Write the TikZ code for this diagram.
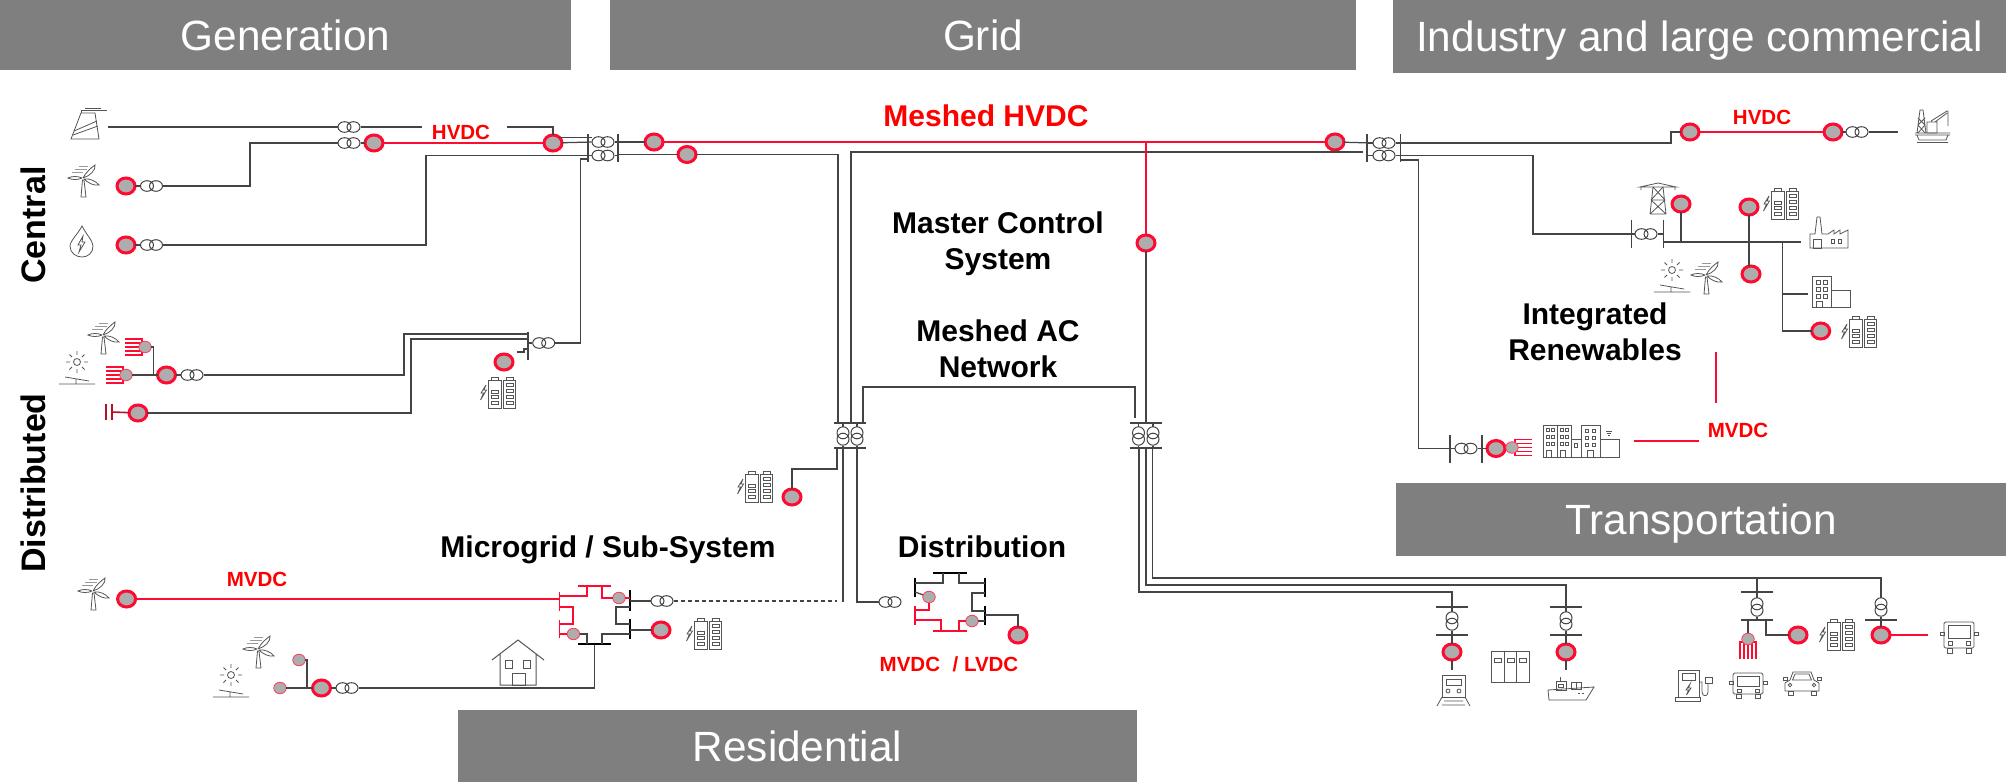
\documentclass[tikz,border=0pt]{standalone}
\usepackage{fontspec}
\setmainfont{Liberation Sans}
\usepackage{xcolor}
\usepackage{tikz}
\usetikzlibrary{positioning, shapes.geometric}
\definecolor{hdrgray}{HTML}{7F7F7F}
\definecolor{dcred}{HTML}{FF0A30}
\definecolor{capred}{HTML}{B81028}
\definecolor{convgray}{HTML}{ADADAD}
\definecolor{wirec}{HTML}{444444}
\definecolor{iconc}{HTML}{555555}

\begin{document}
\begin{tikzpicture}[
    x=1pt, y=-1pt,
    hdr/.style={rectangle, fill=hdrgray, text=white, inner sep=0pt, text depth=0pt,
                font=\fontsize{42.3}{48}\selectfont},
    lbl/.style={align=center, inner sep=0pt, font=\fontsize{30}{36}\selectfont\bfseries},
    sidelbl/.style={inner sep=0pt, rotate=90, font=\fontsize{34}{38}\selectfont\bfseries},
    redlbl/.style={text=red, inner sep=0pt, font=\fontsize{20.5}{24}\selectfont\bfseries},
    conv/.style={ellipse, draw=dcred, fill=convgray, line width=3pt, inner sep=0pt,
                 outer sep=0pt, minimum width=18pt, minimum height=16pt},
    smallconv/.style={ellipse, draw=dcred!80, fill=convgray, line width=0.8pt, inner sep=0pt,
                 outer sep=0pt, minimum width=12.5pt, minimum height=11.5pt},
    trh/.style={rectangle, fill=white, inner sep=0pt, outer sep=0pt,
                minimum width=23pt, minimum height=12pt,
                path picture={\draw[wirec, line width=1pt]
                    (path picture bounding box.center) ++(-4.5,0) ellipse [x radius=6.5, y radius=5.3]
                    ++(9,0) ellipse [x radius=6.5, y radius=5.3];}},
    trv/.style={rectangle, fill=white, inner sep=0pt, outer sep=0pt,
                minimum width=13pt, minimum height=19pt,
                path picture={\draw[wirec, line width=1pt]
                    (path picture bounding box.center) ++(0,-3.2) circle [radius=6]
                    ++(0,6.4) circle [radius=6];}},
    busv/.style={rectangle, fill=wirec, inner sep=0pt, outer sep=0pt,
                 minimum width=1.3pt, minimum height=28pt},
    bush/.style={rectangle, fill=wirec, inner sep=0pt, outer sep=0pt,
                 minimum height=1.3pt, minimum width=32pt},
    wire/.style={wirec, line width=1.25pt},
    dcline/.style={dcred, line width=2.8pt},
    dcthin/.style={dcred, line width=1.8pt},
    ico/.style={draw=iconc, line width=0.8pt},
    plant/.pic={
        \draw[ico] (0,31) -- (10,5) -- (24,5) -- (28,31) -- cycle;
        \draw[ico] (3,23) -- (26,13) (2,27) -- (27,18);
        \draw[ico] (10,5) -- (10,2) -- (36,2) (14,0) -- (30,0);
    },
    windmill/.pic={
        \draw[ico] (15,13) .. controls (18,7) and (23,3) .. (27,0) .. controls (28,5) and (22,11) .. (15,13);
        \draw[ico] (16,14) .. controls (21,13) and (28,16) .. (31,20) .. controls (26,21) and (20,18) .. (16,14);
        \draw[ico] (14,13) .. controls (10,11) and (4,11) .. (0,13) .. controls (4,15) and (10,15) .. (14,13);
        \draw[ico] (13,32) -- (14.5,15) -- (16,15) -- (18,32) -- cycle;
        \draw[iconc!60, line width=1pt] (11,1) -- (20,1) (7,4) -- (19,4) (4,7) -- (15,7);
    },
    sunpanel/.pic={
        \draw[ico] (18,9) circle [radius=3.5];
        \draw[ico] (18,-2) -- (18,2) (18,16) -- (18,20) (7,9) -- (11,9) (25,9) -- (29,9)
            (10.5,1.5) -- (13,4) (25.5,1.5) -- (23,4) (10.5,16.5) -- (13,14) (25.5,16.5) -- (23,14);
        \draw[ico] (6,24) -- (30,28) (17,26) -- (17,31) (0,31) -- (36,31);
    },
    hydrodrop/.pic={
        \draw[ico] (12,0) .. controls (8,8) and (0,15) .. (0,20) .. controls (0,27) and (6,31) .. (12,31)
            .. controls (18,31) and (23,27) .. (23,20) .. controls (23,15) and (16,8) .. (12,0) -- cycle;
        \draw[ico] (13,10) -- (8,19) -- (11,19) -- (9,26) -- (15,16) -- (12,16) -- cycle;
    },
    battpack/.pic={
        \draw[ico] (8,8) -- (3,16) -- (5.5,16) -- (2.5,23) -- (8.5,13) -- (6,13) -- cycle;
        \draw[ico] (10,3) rectangle (23,31) (13,0.5) rectangle (20,3)
            (25,3) rectangle (37.5,31) (28,0.5) rectangle (35,3);
        \draw[ico] (13,13) rectangle ++(7,3) (13,18) rectangle ++(7,3) (13,24) rectangle ++(7,3);
        \draw[ico] (28,6) rectangle ++(7,3) (28,12) rectangle ++(7,3)
            (28,18) rectangle ++(7,3) (28,24) rectangle ++(7,3);
    },
    comb/.pic={
        \draw[dcred, line width=1.6pt] (-3,-8) -- (-20,-8) (-3,-4) -- (-20,-4) (-3,0) -- (-20,0)
            (-3,4) -- (-20,4) (-3,8) -- (-20,8) (-3,-8.7) -- (-3,8.7);
    },
    homeicon/.pic={
        \draw[ico, line width=1pt] (0,20) -- (26,0) -- (52,20) (8,14) -- (8,45) -- (44,45) -- (44,14);
        \draw[ico, line width=1pt] (20,33) rectangle (33,45) (13,20) rectangle ++(7,8) (31,20) rectangle ++(7,8);
    },
    pylon/.pic={
        \draw[ico] (0,4) -- (18,0) -- (36,4) -- cycle (1,4) -- (1,7) (35,4) -- (35,7);
        \draw[ico] (10,31) -- (13,4) (26,31) -- (23,4) (13,4) -- (25,17) (23,4) -- (11,17)
            (11,17) -- (26,31) (25,17) -- (10,31) (11,17) -- (25,17) (10,31) -- (26,31);
    },
    factory/.pic={
        \draw[ico] (0,31) -- (0,17) -- (5,17) -- (7,0) -- (10,0) -- (12,17) -- (18,17) -- (24,13)
            -- (24,17) -- (30,13) -- (30,17) -- (38,13) -- (38,31) -- cycle;
        \draw[ico] (3,22) rectangle (11,31) (21,22) rectangle ++(3,4) (28,22) rectangle ++(3,4);
    },
    office/.pic={
        \draw[ico] (0,0) rectangle (19,31) (19,14) rectangle (38,31);
        \draw[ico] (4,4) rectangle ++(4,4) (11,4) rectangle ++(4,4) (4,11) rectangle ++(4,4)
            (11,11) rectangle ++(4,4) (4,18) rectangle ++(4,4) (11,18) rectangle ++(4,4);
        \draw[ico] (4,25) rectangle (10,31);
    },
    cityblock/.pic={
        \draw[ico] (0,0) rectangle (14,32) (14,0) rectangle (28,32) (28,14) rectangle (38,32)
            (38,0) rectangle (57,32) (57,14) rectangle (76,32);
        \draw[ico] (3,3) rectangle ++(3,3) (8,3) rectangle ++(3,3) (3,10) rectangle ++(3,3)
            (8,10) rectangle ++(3,3) (3,17) rectangle ++(3,3) (8,17) rectangle ++(3,3);
        \draw[ico] (17,3) rectangle ++(3,3) (22,3) rectangle ++(3,3) (17,10) rectangle ++(3,3)
            (22,10) rectangle ++(3,3) (17,17) rectangle ++(3,3) (22,17) rectangle ++(3,3);
        \draw[ico] (42,4) rectangle ++(3,3) (49,4) rectangle ++(3,3) (42,11) rectangle ++(3,3)
            (49,11) rectangle ++(3,3) (42,18) rectangle ++(3,3) (49,18) rectangle ++(3,3);
        \draw[ico] (31,18) rectangle ++(3,4) (3,25) rectangle ++(5,7) (17,25) rectangle ++(5,7)
            (44,25) rectangle ++(6,7);
        \draw[ico] (63,6) -- (69,6) (64,8) -- (68,8) (65,10) -- (67,10);
    },
    rigicon/.pic={
        \draw[ico] (2,23) -- (5,0) -- (8,0) -- (11,23) (3,8) -- (10,15) (10,8) -- (3,15) (3,15) -- (10,23) (10,15) -- (3,23);
        \draw[ico] (12,12) rectangle (22,23) (16,11) -- (32,1) -- (33,1) -- (33,16) (20,12) -- (32,3);
        \draw[ico] (0,23) -- (35,23) (0,25) -- (35,25) (2,25) -- (4,30) -- (31,30) -- (33,25) (2,32.5) -- (33,32.5);
    },
    trainicon/.pic={
        \draw[ico] (5,0) rectangle (28,22) (9,4) rectangle (24,10);
        \draw[ico] (11,16) circle [radius=2] (22,16) circle [radius=2];
        \draw[ico] (5,22) -- (0,31) (28,22) -- (33,31) (7,26) -- (26,26) (5,30) -- (28,30);
    },
    shipicon/.pic={
        \draw[ico] (0,13) -- (46,10) -- (38,23) -- (1,23) -- cycle;
        \draw[ico] (8,4) rectangle (18,13) (12.5,0) -- (12.5,4) (10,7) rectangle ++(5,3);
        \draw[ico] (23,5) rectangle (33,12) (28,5) -- (28,12) (34,16) -- (36,16) (30,16) -- (32,16);
    },
    cabinets/.pic={
        \draw[ico] (0,0) rectangle (37.5,31) (12.5,0) -- (12.5,31) (25,0) -- (25,31);
        \draw[ico] (3,7) rectangle ++(7,4) (15.5,7) rectangle ++(7,4) (28,7) rectangle ++(7,4);
    },
    charger/.pic={
        \draw[ico] (3,27) -- (3,0) -- (24,0) -- (24,27) (0,27) rectangle (25,31) (7,3) rectangle (20,10);
        \draw[ico] (15,14) -- (11,20) -- (13.5,20) -- (11.5,25) -- (16,18) -- (13.5,18) -- cycle;
        \draw[ico] (24,12) -- (27,12) -- (27,22) .. controls (27,27) and (33,27) .. (33,22) -- (33,13);
        \draw[ico] (30,7) rectangle (37,13);
    },
    coach/.pic={
        \draw[ico, rounded corners=1.5pt] (4,0) rectangle (34,21);
        \draw[ico] (8,3) rectangle (30,13) (8,16) rectangle ++(4,3) (26,16) rectangle ++(4,3);
        \draw[ico] (7,21) rectangle (12,25) (26,21) rectangle (31,25) (0,8) rectangle (4,11) (34,8) rectangle (38,11);
    },
    caricon/.pic={
        \draw[ico] (2,21) -- (2,13) -- (7,10) -- (10,2) -- (28,2) -- (31,10) -- (36,13) -- (36,21) -- cycle;
        \draw[ico] (9.5,10) -- (12,4) -- (26,4) -- (28.5,10) -- cycle;
        \draw[ico] (7,15) circle [radius=1.8] (31,15) circle [radius=1.8];
        \draw[ico] (5,21) rectangle (10,25) (28,21) rectangle (33,25) (0,7) rectangle (4,10) (34,7) rectangle (38,10);
    },
]
\useasboundingbox (0,0) rectangle (2006,782);

% headers
\node[hdr, minimum width=571pt, minimum height=70pt] (hdrGen) at (285.5,35) {Generation};
\node[hdr, minimum width=746pt, minimum height=70pt] (hdrGrid) at (983,35) {Grid};
\node[hdr, minimum width=613pt, minimum height=73pt] (hdrInd) at (1699.5,36.5) {Industry and large commercial};
\node[hdr, minimum width=610pt, minimum height=73pt] (hdrTra) at (1701,519.5) {Transportation};
\node[hdr, minimum width=679pt, minimum height=72pt] (hdrRes) at (797.5,746) {Residential};

% labels
\node[sidelbl] (lblCen) at (33,225) {Central};
\node[sidelbl] (lblDis) at (33,483) {Distributed};
\node[lbl, text=red] (lblMesh) at (986,116) {Meshed HVDC};
\node[lbl] (lblMaster) at (998,244) {Master Control\\System};
\node[lbl] (lblAC) at (998,349) {Meshed AC\\Network};
\node[lbl] (lblInt) at (1595,332) {Integrated\\Renewables};
\node[lbl] (lblMicro) at (608,550) {Microgrid / Sub-System};
\node[lbl] (lblDist) at (982,547) {Distribution};
\node[redlbl] (lblHvA) at (461,132) {HVDC};
\node[redlbl] (lblHvB) at (1762,117) {HVDC};
\node[redlbl] (lblMvA) at (257,579) {MVDC};
\node[redlbl] (lblMvB) at (1738,430) {MVDC};
\node[redlbl] (lblMvC) at (949,664) {MVDC\,\, / LVDC};

% icons
\pic at (71,108) {plant};
\pic at (68,165) {windmill};
\pic at (70,226) {hydrodrop};
\pic at (88,322) {windmill};
\pic at (59,353) {sunpanel};
\pic at (145,347) {comb};
\pic at (126,375) {comb};
\pic at (478,377) {battpack};
\pic at (78,578) {windmill};
\pic at (243,636) {windmill};
\pic at (213,666) {sunpanel};
\pic at (492,640) {homeicon};
\pic at (684,618) {battpack};
\pic at (735,471) {battpack};
\pic at (1915,110) {rigicon};
\pic at (1640,183) {pylon};
\pic at (1761,188) {battpack};
\pic at (1810,217) {factory};
\pic at (1812,276) {office};
\pic at (1839,316) {battpack};
\pic at (1654,261) {sunpanel};
\pic at (1691,262) {windmill};
\pic[xscale=-1] at (1512,447.5) {comb};
\pic at (1543,425) {cityblock};
\pic at (1437,675) {trainicon};
\pic at (1548,677) {shipicon};
\pic at (1491.5,651) {cabinets};
\pic[rotate=90] at (1748,639) {comb};
\pic at (1817,619) {battpack};
\pic[yscale=1.24] at (1940,622) {coach};
\pic at (1675,670) {charger};
\pic at (1729,673) {coach};
\pic at (1783,670) {caricon};

% generation
\node[conv] (cWindC) at (126,186) {};
\node[trh, right=5pt of cWindC] (tWindC) {};
\node[conv] (cHydro) at (126,245) {};
\node[trh, right=5pt of cHydro] (tHydro) {};
\node[trh] (tPlant) at (349,127) {};
\node[trh] (tOff) at (349,143) {};
\node[conv] (cOffA) at (374,143) {};
\node[conv] (cOffB) at (553,143) {};
\node[smallconv] (sWindD) at (145,347) {};
\node[smallconv] (sSunD) at (126,375) {};
\node[conv] (cSolar) at (166.5,375) {};
\node[trh] (tSolar) at (192,375) {};
\node[busv, fill=capred, minimum height=16pt] (busCapA) at (106,412) {};
\node[busv, fill=capred, minimum height=16pt] (busCapB) at (112,412) {};
\node[conv] (cCap) at (138,413) {};
\node[trh] (tDer) at (543.7,343) {};
\node[busv] (busDer) at (528,346) {};
\node[conv] (cDerBat) at (504,362) {};
\coordinate (plantEnd) at (108,127);
\coordinate (gapA) at (422,127);
\coordinate (gapB) at (507,127);
\coordinate (jSolar) at (153.4,375);
\coordinate (busDerA) at (528,334);
\coordinate (busDerB) at (528,339);
\coordinate (busDerC) at (528,349);

\draw[wire] (plantEnd) -- (tPlant.west);
\draw[wire] (tPlant.east) -- (gapA);
\draw[wire] (gapB) -| (cOffB.north);
\draw[wire] (tOff.west) -- ++(-87.5,0) |- (tWindC.east);
\draw[wire] (cWindC) -- (tWindC.west);
\draw[wire] (cHydro) -- (tHydro.west);
\draw[wire] (tOff) -- (cOffA);
\draw[dcline] (cOffA) -- (cOffB);
\draw[wire] (sWindD) -| (jSolar);
\draw[wire] (sSunD) -- (cSolar);
\draw[wire] (cSolar) -- (tSolar);
\draw[wire] (tSolar.east) -- ++(200.5,0) |- (busDerA);
\draw[capred, line width=1.6pt] (busCapB) -- (cCap);
\draw[wire] (cCap) -- ++(273,0) |- (busDerB);
\draw[wire] (tDer.west) -- (tDer.west -| busDer);

% grid
\node[trh] (tGenA) at (603,142) {};
\node[trh] (tGenB) at (603,155.5) {};
\node[busv] (busGenL) at (588,148) {};
\node[busv] (busGenR) at (618,148) {};
\node[conv] (cGridA) at (654,142) {};
\node[conv] (cGridB) at (687,154.5) {};
\node[conv] (cGridE) at (1335,142) {};
\node[conv] (cMaster) at (1146,243) {};
\node[trh] (tIndA) at (1384,143) {};
\node[trh] (tIndB) at (1384,155.5) {};
\node[busv] (busIndL) at (1367,148) {};
\node[busv] (busIndR) at (1400.5,148) {};
\node[bush] (busACt) at (850,423) {};
\node[bush] (busACb) at (850,448) {};
\node[trv] (tACa) at (843,436) {};
\node[trv] (tACb) at (857,436) {};
\node[bush] (busBt) at (1146,423) {};
\node[bush] (busBb) at (1146,448) {};
\node[trv] (tBa) at (1138.5,436) {};
\node[trv] (tBb) at (1153,436) {};
\node[conv] (cACbat) at (792,497) {};
\coordinate (jHydro) at (426,155.5);
\coordinate (dA) at (838,423);
\coordinate (dB) at (851,423);
\coordinate (dC) at (863,423);
\coordinate (stubR) at (1363,152);
\coordinate (eC) at (1135,418);
\coordinate (eD) at (1146,423);
\coordinate (tapM) at (1146,142);
\coordinate (acC) at (837,448);
\coordinate (acA) at (843,448);
\coordinate (acAend) at (843,602);
\coordinate (genStub) at (588,159);
\coordinate (bB1) at (1139,448);
\coordinate (bB2) at (1146,448);
\coordinate (bB3) at (1152.5,448);

\draw[wire] (tHydro.east) -| (jHydro) -- (tGenB.west);
\draw[wire] (cOffB) -- (tGenA.west);
\draw[wire] (cOffB.north east) -- (cOffB.north east -| tGenA.west);
\draw[wire] (busDerC) -- ++(-4,0) -- ++(0,3) -- ++(-7,0);
\draw[wire] (tDer.east) -- ++(25.3,0) |- (genStub);
\draw[wire] (tGenA.east) -- (tGenA.east -| busGenR);
\draw[wire] (tGenB.east) -- (tGenB.east -| busGenR);
\draw[wire] (busGenR |- cGridA) -- (cGridA);
\draw[wire] (busGenR |- cGridB) -- (cGridB);
\draw[wire] (cGridB) -| (dA);
\draw[wire] (dB) |- (stubR);
\draw[dcline] (cGridA) -- (cGridE);
\draw[wire] (cGridE) -- (tIndA.west);
\draw[wire] (dC) -- ++(0,-36) -| (eC);
\draw[dcline] (tapM) -- (cMaster);
\draw[wire] (cMaster) -- (eD);
\draw[wire] (tACa.north) -- (tACa.north |- busACt);
\draw[wire] (tACa.south) -- (tACa.south |- busACb);
\draw[wire] (tACb.north) -- (tACb.north |- busACt);
\draw[wire] (tACb.south) -- (tACb.south |- busACb);
\draw[wire] (tBa.north) -- (tBa.north |- busBt);
\draw[wire] (tBa.south) -- (tBa.south |- busBb);
\draw[wire] (tBb.north) -- (tBb.north |- busBt);
\draw[wire] (tBb.south) -- (tBb.south |- busBb);
\draw[wire] (acC) -- ++(0,21) -| (cACbat.north);
\draw[wire] (acA) -- (acAend);

% microgrid
\node[conv] (cWindD) at (126.6,599) {};
\node[bush, fill=dcred, minimum width=33pt] (busMgT) at (594.5,586) {};
\node[bush, minimum width=33pt, minimum height=2.4pt, fill=black] (busMgB) at (594.5,644) {};
\node[busv, fill=dcred, minimum height=19pt] (busMgLu) at (559.6,601.5) {};
\node[busv, fill=dcred, minimum height=18pt] (busMgLl) at (559.6,629) {};
\node[busv, minimum height=21pt, fill=black] (busMgRu) at (630,600.5) {};
\node[busv, minimum height=20pt, fill=black] (busMgRl) at (630,629) {};
\node[smallconv] (sMgN) at (619,598) {};
\node[smallconv] (sMgS) at (573.4,634) {};
\node[trh] (tMg) at (662,601) {};
\node[conv] (cMg) at (661,630) {};
\node[trh] (tRes) at (347,688) {};
\node[conv] (cRes) at (321.5,688) {};
\node[smallconv] (sResA) at (280,688) {};
\node[smallconv] (sResB) at (299,660) {};
\coordinate (mgA) at (559.6,596);
\coordinate (mgB) at (587,586);
\coordinate (mgC) at (602,586);
\coordinate (mgD) at (559.6,607);
\coordinate (mgE) at (559.6,624);
\coordinate (mgF) at (587,644);
\coordinate (mgG) at (602,644);
\coordinate (mgH) at (630,634);
\coordinate (mgI) at (630,607);
\coordinate (mgJ) at (630,624);
\coordinate (jRes) at (307,688);
\coordinate (dashEnd) at (837,601);

\draw[dcline] (cWindD) -- (cWindD -| busMgLu);
\draw[dcthin] (mgA) -| (mgB);
\draw[dcthin] (mgC) |- (sMgN);
\draw[dcthin] (sMgN) -- (sMgN -| busMgRu);
\draw[dcthin] (mgD) -- ++(13,0) |- (mgE);
\draw[dcthin] (sMgS) -- (sMgS -| busMgLl);
\draw[wire] (sMgS) -| (mgF);
\draw[wire] (mgG) |- (mgH);
\draw[wire] (mgI) -- ++(-14,0) |- (mgJ);
\draw[wire] (tMg.west) -- (tMg.west -| busMgRu);
\draw[wire, dash pattern=on 4pt off 3pt] (tMg.east) -- (dashEnd);
\draw[wire] (cMg) -- (cMg -| busMgRl);
\draw[wire] (busMgB) |- (tRes.east);
\draw[wire] (tRes) -- (cRes);
\draw[wire] (sResA) -- (cRes);
\draw[wire] (sResB) -| (jRes);

% distribution
\node[trh] (tDist) at (890,602) {};
\node[bush, minimum width=34pt, minimum height=2.4pt, fill=black] (busDT) at (950,573) {};
\node[bush, minimum width=34pt, fill=dcred, minimum height=2pt] (busDB) at (950,631) {};
\node[busv, minimum height=19pt, fill=black] (busDLu) at (915,587.5) {};
\node[busv, minimum height=19pt, fill=dcred] (busDLl) at (915,615.5) {};
\node[busv, minimum height=19pt, fill=black] (busDRu) at (985,587.5) {};
\node[busv, minimum height=19pt, fill=black] (busDRl) at (985,615.5) {};
\node[smallconv] (sDL) at (929,597) {};
\node[smallconv] (sDR) at (972,621) {};
\node[conv] (cDist) at (1018,635) {};
\coordinate (dnA) at (915,583);
\coordinate (dnB) at (943,573);
\coordinate (dnC) at (959,573);
\coordinate (dnD) at (985,583);
\coordinate (dnE) at (915,592);
\coordinate (dnF) at (915,610);
\coordinate (dnG) at (915,620);
\coordinate (dnH) at (941,631);
\coordinate (dnI) at (959,631);
\coordinate (dnJ) at (985,593);
\coordinate (dnK) at (985,611);
\coordinate (dnL) at (985,615);

\draw[wire] (tACb.south |- busACb) |- (tDist.west);
\draw[wire] (dnA) -| (dnB);
\draw[wire] (dnC) |- (dnD);
\draw[wire] (dnE) -- (sDL);
\draw[dcthin] (sDL) |- (dnF);
\draw[dcthin] (dnG) -| (dnH);
\draw[dcthin] (dnI) |- (sDR);
\draw[wire] (sDR) -- (sDR -| busDRl);
\draw[wire] (dnJ) -- ++(-13,0) |- (dnK);
\draw[wire] (dnL) -| (cDist.north);

% industry
\node[conv] (cRigA) at (1690,132) {};
\node[conv] (cRigB) at (1833,132) {};
\node[trh] (tRig) at (1857,132) {};
\node[busv] (busIntL) at (1631.6,234) {};
\node[trh] (tInt) at (1646,234) {};
\node[busv] (busIntR) at (1663.4,234) {};
\node[conv] (cTower) at (1681,204) {};
\node[conv] (cBatA) at (1749,207) {};
\node[conv] (cRen) at (1751,274) {};
\node[conv] (cBatB) at (1820.7,331) {};
\node[busv] (busBldL) at (1450,448.5) {};
\node[trh] (tBld) at (1466,448.5) {};
\node[busv] (busBldR) at (1482,448.5) {};
\node[conv] (cBld) at (1496,448.5) {};
\node[smallconv] (sBld) at (1512,447.5) {};
\coordinate (indC) at (1400.5,160);
\coordinate (rigEnd) at (1897.6,132);
\coordinate (feedA) at (1663.4,242);
\coordinate (feedB) at (1801,242);
\coordinate (feedC) at (1782.4,242);
\coordinate (bldEnd) at (1807.6,294);
\coordinate (mvA) at (1634,441);
\coordinate (mvB) at (1699,441);
\coordinate (mvC) at (1716,352);
\coordinate (mvD) at (1716,403);

\draw[wire] (tIndA.west) -- (tIndA.west -| busIndL);
\draw[wire] (tIndB.west) -- (tIndB.west -| busIndL);
\draw[wire] (tIndA.east) -- ++(275.5,0) |- (cRigA);
\draw[dcline] (cRigA) -- (cRigB);
\draw[wire] (cRigB) -- (tRig);
\draw[wire] (tRig.east) -- (rigEnd);
\draw[wire] (tIndB.east) -- ++(137.5,0) |- (busIntL);
\draw[wire] (indC) -- ++(18,0) |- (busBldL);
\draw[wire] (busIntL) -- (tInt.west);
\draw[wire] (tInt.east) -- (busIntR);
\draw[wire] (feedA) -- (feedB);
\draw[wire] (cTower) -- (cTower |- feedA);
\draw[wire] (cBatA) -- (cBatA |- cRen.north);
\draw[wire] (feedC) |- (cBatB);
\draw[wire] (feedC) |- (bldEnd);
\draw[wire] (busBldL) -- (tBld);
\draw[wire] (tBld) -- (busBldR);
\draw[wire] (busBldR) -- (cBld);
\draw[dcthin] (mvA) -- (mvB);
\draw[dcthin] (mvC) -- (mvD);

% transportation
\node[bush] (busTrT) at (1452,607) {};
\node[trv] (tTr) at (1452,621) {};
\node[bush] (busTrB) at (1452,635) {};
\node[conv] (cTr) at (1452,652) {};
\node[bush] (busShT) at (1566,607) {};
\node[trv] (tSh) at (1566,621) {};
\node[bush] (busShB) at (1566,635) {};
\node[conv] (cSh) at (1566,652) {};
\node[bush] (busEvT) at (1757,592) {};
\node[trv] (tEv) at (1757,607) {};
\node[bush] (busEvB) at (1757,620) {};
\node[smallconv] (sEv) at (1748,639) {};
\node[conv] (cEv) at (1798,635) {};
\node[trv] (tCoach) at (1881,607) {};
\node[bush] (busCoach) at (1881,620) {};
\node[conv] (cCoach) at (1881,635) {};
\coordinate (trEnd) at (1452,670);
\coordinate (shEnd) at (1566,670);
\coordinate (evA) at (1748,620);
\coordinate (evB) at (1766,620);
\coordinate (tapEv) at (1757,578);
\coordinate (coachEnd) at (1928,635);

\draw[wire] (bB1) -- ++(0,144) -| (busTrT);
\draw[wire] (bB2) -- ++(0,137) -| (busShT);
\draw[wire] (bB3) -- ++(0,130) -| (tCoach.north);
\draw[wire] (busTrT) -- (tTr.north);
\draw[wire] (tTr.south) -- (busTrB);
\draw[wire] (busTrB) -- (cTr);
\draw[wire] (cTr) -- (trEnd);
\draw[wire] (busShT) -- (tSh.north);
\draw[wire] (tSh.south) -- (busShB);
\draw[wire] (busShB) -- (cSh);
\draw[wire] (cSh) -- (shEnd);
\draw[wire] (tapEv) -- (busEvT);
\draw[wire] (busEvT) -- (tEv.north);
\draw[wire] (tEv.south) -- (busEvB);
\draw[wire] (evA) -- (sEv);
\draw[wire] (evB) |- (cEv);
\draw[wire] (tCoach.south) -- (busCoach);
\draw[wire] (busCoach) -- (cCoach);
\draw[dcthin] (cCoach) -- (coachEnd);
\end{tikzpicture}
\end{document}
